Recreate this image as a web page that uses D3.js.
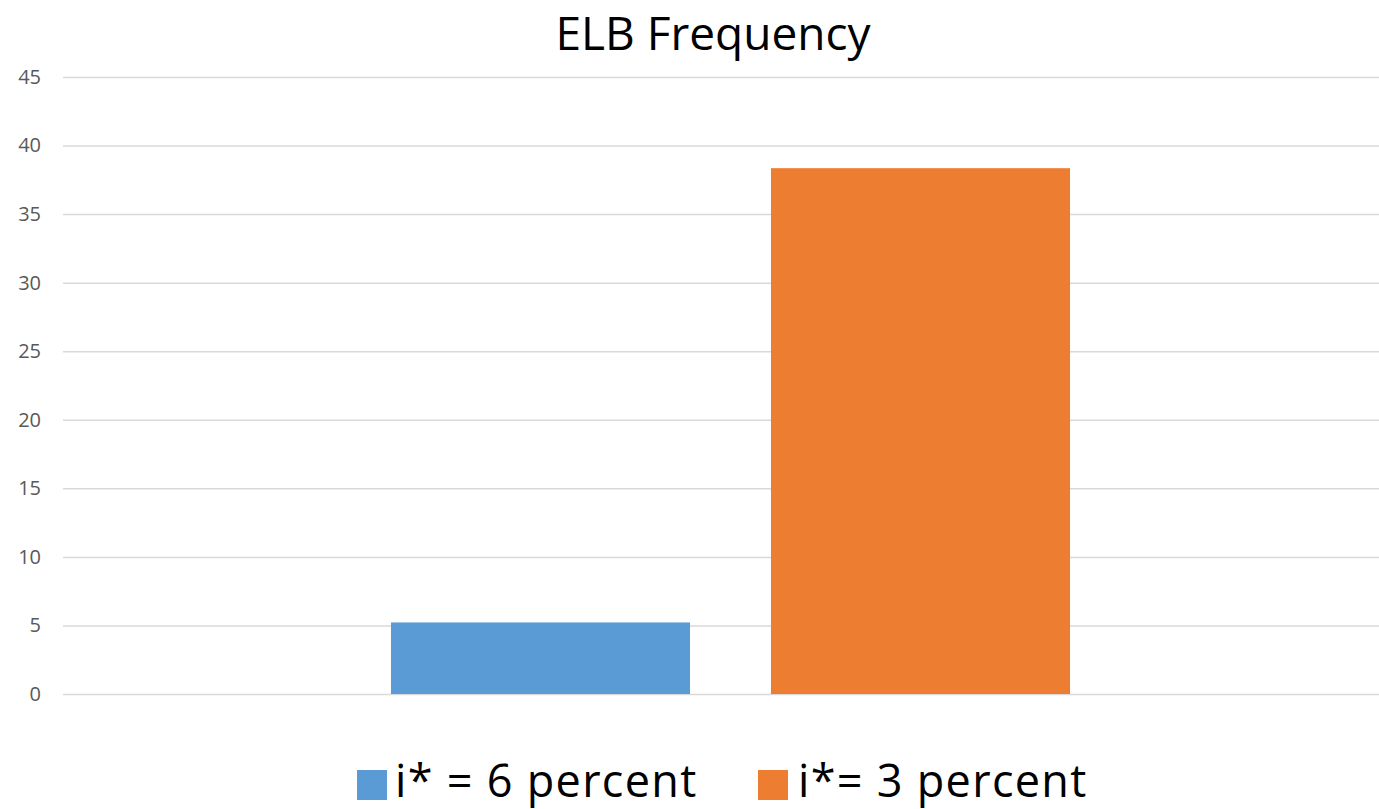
<!DOCTYPE html>
<html>
<head>
    <meta charset="utf-8">
    <script src="https://d3js.org/d3.v7.min.js"></script>
    <title>ELB Frequency</title>
    <style>
        body { margin: 0; background: #fff; }
        text { font-family: "Open Sans", "Noto Sans", sans-serif; }
    </style>
</head>
<body>
    <div id="container"></div>
<script>
    // data
    var categories = [""];
    var seriesNames = ["i* = 6 percent", "i*= 3 percent"];
    var seriesValues = [5.22, 38.35];
    var seriesColors = ["#5b9bd5", "#ed7d31"];
    var yTicks = [0, 5, 10, 15, 20, 25, 30, 35, 40, 45];

    var svg_width = 1379,
        svg_height = 809,
        margin = {left: 63, top: 77, right: -19, bottom: 115};

    var svg = d3.select("#container")
        .append("svg")
        .attr("width", svg_width)
        .attr("height", svg_height);

    // scales
    var scale_y = d3.scaleLinear()
        .domain([0, 45])
        .range([svg_height - margin.bottom, margin.top]);

    var scale_x0 = d3.scaleBand()
        .domain(categories)
        .range([margin.left, svg_width - margin.right])
        .paddingInner(0)
        .paddingOuter(0.483);

    var scale_x1 = d3.scaleBand()
        .domain(seriesNames)
        .range([0, scale_x0.bandwidth()])
        .paddingInner(0.213)
        .paddingOuter(0);

    // grid lines + tick labels
    var axis_y = d3.axisLeft(scale_y)
        .tickValues(yTicks)
        .tickSize(-(svg_width - margin.right - margin.left))
        .tickPadding(22);

    var gy = svg.append("g")
        .attr("class", "axis_y")
        .attr("transform", `translate(${margin.left},0)`)
        .call(axis_y);
    gy.select(".domain").remove();
    gy.selectAll(".tick line")
        .attr("stroke", "#d9d9d9")
        .attr("stroke-width", 1.5);
    gy.selectAll(".tick text")
        .attr("fill", "#595959")
        .style("font-size", "20px");

    // bars
    var rows = seriesNames.map((s, i) => ({name: s, value: seriesValues[i], color: seriesColors[i], cat: categories[0]}));

    svg.append("g")
        .selectAll("rect")
        .data(rows)
        .enter()
        .append("rect")
        .attr("x", d => scale_x0(d.cat) + scale_x1(d.name))
        .attr("width", scale_x1.bandwidth())
        .attr("y", d => scale_y(d.value))
        .attr("height", d => scale_y(0) - scale_y(d.value))
        .attr("fill", d => d.color);

    // title
    svg.append("text")
        .attr("x", 713)
        .attr("y", 50)
        .attr("text-anchor", "middle")
        .style("font-size", "46px")
        .attr("fill", "#000")
        .text("ELB Frequency");

    // legend
    var legendX = [357, 758];
    var legendGap = [38, 40];
    var legend = svg.append("g")
        .selectAll(".legend")
        .data(rows)
        .enter()
        .append("g")
        .attr("class", "legend")
        .attr("transform", (d, i) => `translate(${legendX[i]},770)`);

    legend.append("rect")
        .attr("width", 30)
        .attr("height", 30)
        .attr("fill", d => d.color);

    legend.append("text")
        .attr("x", (d, i) => legendGap[i])
        .attr("y", 27)
        .style("font-size", "45px")
        .style("letter-spacing", "1.3px")
        .attr("fill", "#000")
        .text(d => d.name);
</script>
</body>
</html>
